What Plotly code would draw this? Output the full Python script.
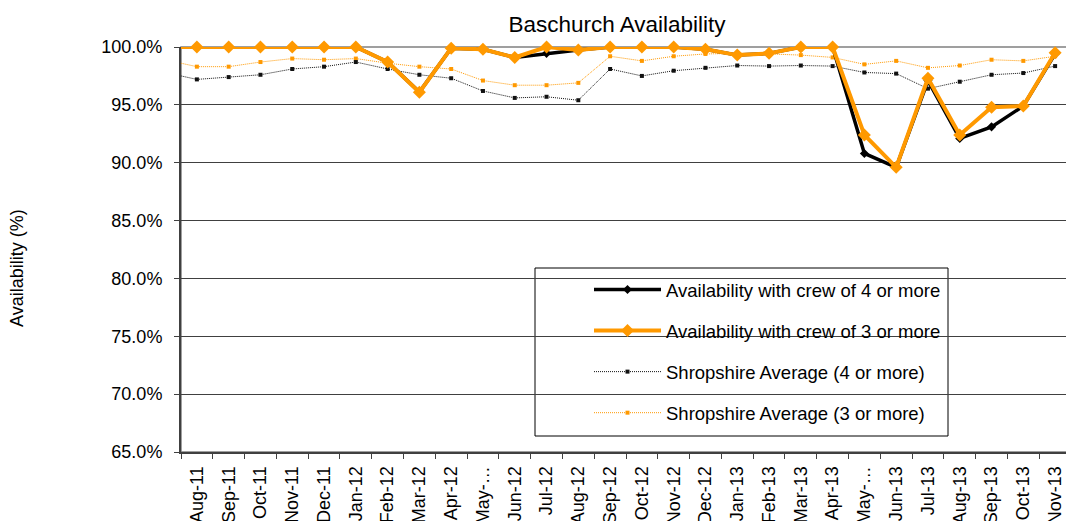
import plotly.graph_objects as go

months = ["Aug-11", "Sep-11", "Oct-11", "Nov-11", "Dec-11", "Jan-12", "Feb-12", "Mar-12",
          "Apr-12", "May-12", "Jun-12", "Jul-12", "Aug-12", "Sep-12", "Oct-12", "Nov-12",
          "Dec-12", "Jan-13", "Feb-13", "Mar-13", "Apr-13", "May-13", "Jun-13", "Jul-13",
          "Aug-13", "Sep-13", "Oct-13", "Nov-13"]
tick_labels = ["Aug-11", "Sep-11", "Oct-11", "Nov-11", "Dec-11", "Jan-12", "Feb-12", "Mar-12",
               "Apr-12", "May-…", "Jun-12", "Jul-12", "Aug-12", "Sep-12", "Oct-12", "Nov-12",
               "Dec-12", "Jan-13", "Feb-13", "Mar-13", "Apr-13", "May-…", "Jun-13", "Jul-13",
               "Aug-13", "Sep-13", "Oct-13", "Nov-13"]

crew4 = [100, 100, 100, 100, 100, 100, 98.7, 96.1, 99.9, 99.8, 99.1, 99.45, 99.75, 100,
         100, 100, 99.8, 99.3, 99.45, 100, 100, 90.8, 89.6, 97.1, 92.1, 93.1, 94.9, 99.4]
crew3 = [100, 100, 100, 100, 100, 100, 98.7, 96.1, 99.9, 99.8, 99.1, 100, 99.75, 100,
         100, 100, 99.8, 99.3, 99.45, 100, 100, 92.4, 89.6, 97.3, 92.4, 94.8, 94.9, 99.5]
avg4 = [97.2, 97.4, 97.6, 98.1, 98.3, 98.7, 98.1, 97.6, 97.3, 96.2, 95.6, 95.7, 95.4, 98.1,
        97.5, 97.95, 98.2, 98.4, 98.35, 98.4, 98.35, 97.8, 97.7, 96.4, 97.0, 97.6, 97.75, 98.35]
avg3 = [98.3, 98.3, 98.7, 99.0, 98.9, 99.0, 98.6, 98.3, 98.1, 97.1, 96.7, 96.7, 96.9, 99.2,
        98.8, 99.2, 99.4, 99.45, 99.4, 99.3, 99.1, 98.5, 98.8, 98.2, 98.4, 98.9, 98.8, 99.2]

# previous month (Jul-11), only partly visible at the left edge
prev_month = {"crew4": 100, "crew3": 100, "avg4": 97.8, "avg3": 98.9}

ORANGE = "#FF9900"
FONT = "Liberation Sans, Arial, sans-serif"
x = list(range(len(months)))

fig = go.Figure()

styles = {
    "avg3": dict(line=dict(color=ORANGE, width=1, dash="1px,1px"),
                 marker=dict(symbol="square", size=4, color=ORANGE)),
    "avg4": dict(line=dict(color="#111111", width=1, dash="1px,1px"),
                 marker=dict(symbol="square", size=4, color="#111111")),
    "crew4": dict(line=dict(color="black", width=3.5),
                  marker=dict(symbol="diamond", size=7, color="black")),
    "crew3": dict(line=dict(color=ORANGE, width=4),
                  marker=dict(symbol="diamond", size=10, color=ORANGE)),
}
series = {"avg3": avg3, "avg4": avg4, "crew4": crew4, "crew3": crew3}
names = {"crew4": "Availability with crew of 4 or more",
         "crew3": "Availability with crew of 3 or more",
         "avg4": "Shropshire Average (4 or more)",
         "avg3": "Shropshire Average (3 or more)"}
rank = {"crew4": 1, "crew3": 2, "avg4": 3, "avg3": 4}

for key in ["avg3", "avg4", "crew4", "crew3"]:
    st = styles[key]
    fig.add_trace(go.Scatter(x=[-1, 0], y=[prev_month[key], series[key][0]], mode="lines",
                             line=st["line"], showlegend=False, hoverinfo="skip"))
    fig.add_trace(go.Scatter(x=x, y=series[key], mode="lines+markers", name=names[key],
                             line=st["line"], marker=st["marker"], cliponaxis=False,
                             legendrank=rank[key], legendgroup=key))

# the page body has an 8px margin, so the figure is drawn 8px right/down
OFF = 8
W, H = 1074 - OFF, 521 - OFF
L, R, T, B = 181 - OFF, 3, 47 - OFF, 521 - 452
pw, ph = W - L - R, H - T - B

def px_x(p):
    return (p - OFF - L) / pw

def px_y(p):
    return (H - B - (p - OFF)) / ph

fig.update_layout(
    width=W, height=H,
    margin=dict(l=L, r=R, t=T, b=B, autoexpand=False),
    paper_bgcolor="white", plot_bgcolor="white",
    font=dict(family=FONT, size=18, color="black"),
    title=dict(text="Baschurch Availability", x=(617 - OFF) / W, xref="container",
               xanchor="center", y=1 - (24 - OFF) / H, yref="container", yanchor="middle",
               font=dict(family=FONT, size=22.5, color="black")),
    showlegend=True,
    legend=dict(x=px_x(589), y=px_y(271), xanchor="left", yanchor="top",
                bgcolor="rgba(0,0,0,0)", borderwidth=0, itemwidth=67,
                tracegroupgap=14, font=dict(family=FONT, size=18.5, color="black")),
    xaxis=dict(range=[-0.5, len(months) - 0.5], tickmode="array", tickvals=x,
               ticktext=tick_labels, tickangle=-90, showgrid=False, zeroline=False,
               showline=True, linecolor="#404040", linewidth=2, automargin=False,
               ticks="outside", ticklen=5, tickcolor="rgba(0,0,0,0)",
               minor=dict(tickmode="array", tickvals=[i - 0.5 for i in range(len(months) + 1)],
                          ticks="outside", ticklen=5, tickcolor="#404040", showgrid=False),
               tickfont=dict(family=FONT, size=18, color="black")),
    yaxis=dict(range=[65, 100], dtick=5, tick0=65, tickformat=".1f", ticksuffix="%",
               showgrid=True, gridcolor="#404040", gridwidth=1, zeroline=False,
               showline=True, linecolor="#404040", linewidth=2, automargin=False,
               ticks="outside", ticklen=5, tickcolor="#404040", ticklabelstandoff=8,
               tickfont=dict(family=FONT, size=18, color="black")),
    shapes=[
        dict(type="rect", xref="paper", yref="paper", x0=0, x1=1, y0=0, y1=1,
             line=dict(color="#808080", width=1.5), layer="below"),
        dict(type="rect", xref="paper", yref="paper", x0=px_x(535), x1=px_x(948),
             y0=px_y(436), y1=px_y(268), line=dict(color="black", width=1),
             fillcolor="white", layer="below"),
    ],
    annotations=[
        dict(text="Availability (%)", xref="paper", yref="paper", x=px_x(17), y=px_y(268),
             textangle=-90, showarrow=False, xanchor="center", yanchor="middle",
             font=dict(family=FONT, size=18, color="black")),
    ],
)

fig.write_html("out.html")
